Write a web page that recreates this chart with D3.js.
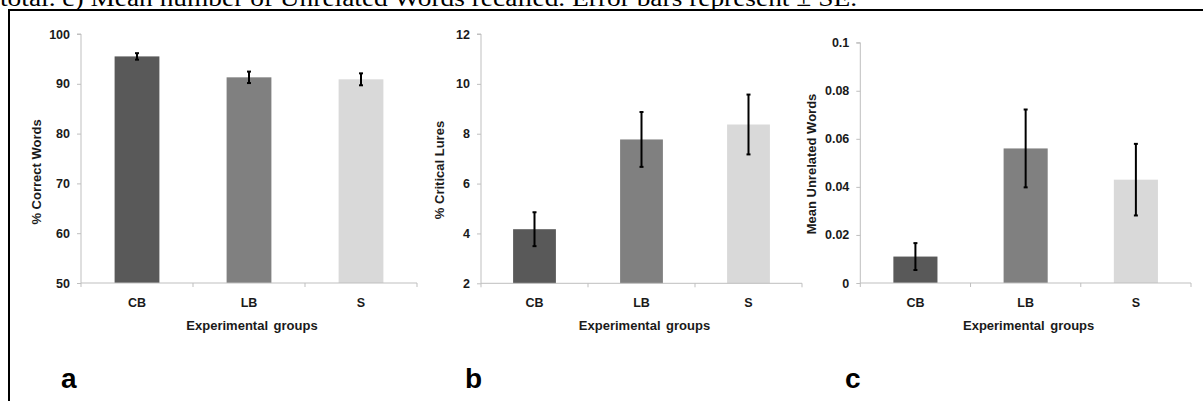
<!DOCTYPE html>
<html lang="en">
<head>
<meta charset="UTF-8">
<title>Experimental groups</title>
<style>
  body { margin: 0; background: #fff; }
  svg { display: block; }
</style>
</head>
<body>
<script src="https://cdn.jsdelivr.net/npm/d3@7"></script>
<script>
// data
var groups = ['CB', 'LB', 'S']
var colors = ['#595959', '#808080', '#d9d9d9']

var correctMean = [95.5, 91.3, 90.9]
var correctSE   = [0.65, 1.15, 1.2]

var luresMean = [4.17, 7.77, 8.37]
var luresSE   = [0.68, 1.1, 1.2]

var unrelMean = [0.011, 0.056, 0.043]
var unrelSE   = [0.0056, 0.0162, 0.0149]

var correctTicks = [50, 60, 70, 80, 90, 100]
var luresTicks = [2, 4, 6, 8, 10, 12]
var unrelTicks = [0, 0.02, 0.04, 0.06, 0.08, 0.1]

var panels = [
  {letter: 'a', ytitle: '% Correct Words', mean: correctMean, se: correctSE, ticks: correctTicks, dom: [50, 100],
   x0: 81, x1: 417, top: 34, bot: 283, ytx: 37, yty: 172, lx: 61, fmt: d => d},
  {letter: 'b', ytitle: '% Critical Lures', mean: luresMean, se: luresSE, ticks: luresTicks, dom: [2, 12],
   x0: 481, x1: 802, top: 34, bot: 283.3, ytx: 440, yty: 170, lx: 465, fmt: d => d},
  {letter: 'c', ytitle: 'Mean Unrelated Words', mean: unrelMean, se: unrelSE, ticks: unrelTicks, dom: [0, 0.1],
   x0: 860.3, x1: 1191, top: 42.7, bot: 283, ytx: 812, yty: 164, lx: 845, fmt: d => d === 0 ? '0' : String(+d.toFixed(2))}
]

var W = 1203, H = 401
var svg = d3.select('body').append('svg').attr('width', W).attr('height', H)

// caption cut off at the top
svg.append('text')
  .attr('x', 0).attr('y', 6)
  .attr('font-family', 'Liberation Serif, Times New Roman, serif')
  .attr('font-size', 23)
  .attr('fill', '#000')
  .attr('textLength', 857).attr('lengthAdjust', 'spacingAndGlyphs')
  .text('total. c) Mean number of Unrelated Words recalled. Error bars represent \u00b1 SE.')

// figure frame
svg.append('rect')
  .attr('x', 9).attr('y', 10).attr('width', W + 10).attr('height', H + 10)
  .attr('fill', 'none').attr('stroke', '#000').attr('stroke-width', 2)

var axisCol = '#bfbfbf'
var font = 'Liberation Sans, Arial, sans-serif'

panels.forEach(function(p) {
  var g = svg.append('g')
  var x = d3.scaleBand().domain(groups).range([p.x0, p.x1]).paddingInner(0.6).paddingOuter(0.3)
  var y = d3.scaleLinear().domain(p.dom).range([p.bot, p.top])

  // y axis
  var yAx = g.append('g').attr('transform', `translate(${p.x0},0)`)
    .call(d3.axisLeft(y).tickValues(p.ticks).tickSize(4).tickPadding(7).tickFormat(p.fmt))
  yAx.select('.domain').attr('stroke', axisCol).attr('d', `M-4,${p.top}H0V${p.bot}`)
  yAx.selectAll('.tick line').attr('stroke', axisCol)
  yAx.selectAll('.tick text').attr('font-family', font).attr('font-weight', 'bold')
    .attr('font-size', 12.5).attr('fill', '#1a1a1a')

  // bars
  g.selectAll('rect.bar').data(p.mean).enter().append('rect')
    .attr('x', (d, i) => x(groups[i]))
    .attr('y', d => y(d))
    .attr('width', x.bandwidth())
    .attr('height', d => y(p.dom[0]) - y(d))
    .attr('fill', (d, i) => colors[i])

  // x axis with ticks at band edges
  var step = x.step()
  var edges = d3.range(groups.length + 1).map(i => p.x0 + i * step)
  g.append('line').attr('x1', p.x0).attr('x2', p.x1).attr('y1', p.bot).attr('y2', p.bot)
    .attr('stroke', axisCol).attr('stroke-width', 1)
  g.selectAll('line.xt').data(edges).enter().append('line')
    .attr('x1', d => d).attr('x2', d => d).attr('y1', p.bot).attr('y2', p.bot + 4)
    .attr('stroke', axisCol)
  g.selectAll('text.cat').data(groups).enter().append('text')
    .attr('x', d => x(d) + x.bandwidth() / 2)
    .attr('y', p.bot + 24)
    .attr('text-anchor', 'middle')
    .attr('font-family', font).attr('font-weight', 'bold').attr('font-size', 12.5).attr('fill', '#1a1a1a')
    .text(d => d)

  // error bars
  var eb = g.selectAll('g.err').data(p.mean).enter().append('g')
    .attr('stroke', '#000').attr('stroke-width', 2)
  eb.append('line')
    .attr('x1', (d, i) => x(groups[i]) + x.bandwidth() / 2)
    .attr('x2', (d, i) => x(groups[i]) + x.bandwidth() / 2)
    .attr('y1', (d, i) => y(d + p.se[i]))
    .attr('y2', (d, i) => y(d - p.se[i]))
  ;[1, -1].forEach(function(s) {
    eb.append('line')
      .attr('x1', (d, i) => x(groups[i]) + x.bandwidth() / 2 - 2)
      .attr('x2', (d, i) => x(groups[i]) + x.bandwidth() / 2 + 2)
      .attr('y1', (d, i) => y(d + s * p.se[i]))
      .attr('y2', (d, i) => y(d + s * p.se[i]))
  })

  // titles
  g.append('text')
    .attr('x', (p.x0 + p.x1) / 2 + 3).attr('y', p.bot + 47)
    .attr('text-anchor', 'middle')
    .attr('font-family', font).attr('font-weight', 'bold').attr('font-size', 13).attr('fill', '#1a1a1a')
    .attr('word-spacing', 2)
    .text('Experimental groups')
  g.append('text')
    .attr('transform', `translate(${p.ytx + 4},${p.yty}) rotate(-90)`)
    .attr('text-anchor', 'middle')
    .attr('font-family', font).attr('font-weight', 'bold').attr('font-size', 13).attr('fill', '#1a1a1a')
    .text(p.ytitle)

  g.append('text')
    .attr('x', p.lx).attr('y', 388)
    .attr('font-family', font).attr('font-weight', 'bold').attr('font-size', 28).attr('fill', '#000')
    .text(p.letter)
})
</script>
</body>
</html>
